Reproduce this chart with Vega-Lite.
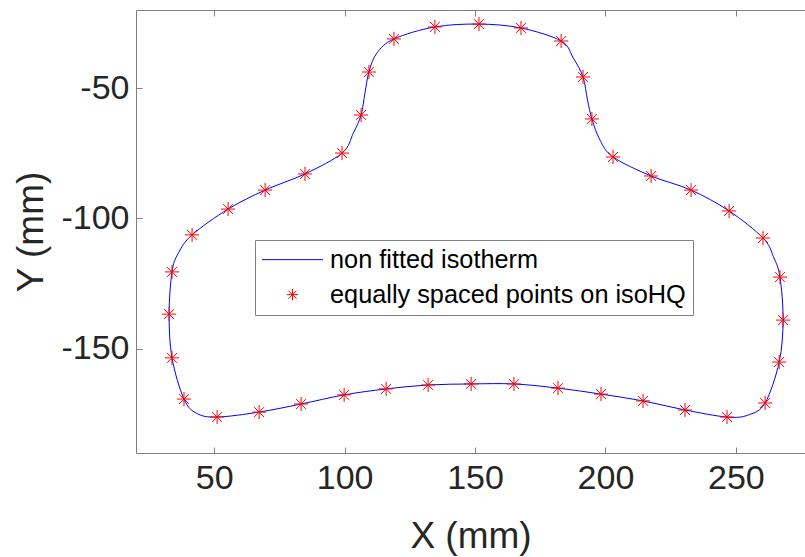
{
  "$schema": "https://vega.github.io/schema/vega-lite/v6.json",
  "width": 669,
  "height": 443,
  "autosize": {"type": "none"},
  "padding": {"left": 136, "top": 10, "right": 0, "bottom": 104},
  "background": "white",
  "config": {
    "view": {"stroke": null},
    "font": "Liberation Sans",
    "axis": {
      "grid": false,
      "domainColor": "#808080",
      "domainWidth": 1,
      "tickColor": "#808080",
      "tickSize": -6,
      "labelFont": "Liberation Sans",
      "labelFontSize": 34,
      "labelColor": "#262626",
      "labelExpr": "toString(datum.value)",
      "titleFont": "Liberation Sans",
      "titleFontSize": 37,
      "titleFontWeight": "normal",
      "titleColor": "#262626"
    }
  },
  "datasets": {
    "curve": [
      {"i": 1, "x": 41.5, "y": -106.3, "s": "non fitted isotherm"},
      {"i": 2, "x": 55.3, "y": -96.4, "s": "non fitted isotherm"},
      {"i": 3, "x": 69.5, "y": -89.1, "s": "non fitted isotherm"},
      {"i": 4, "x": 84.8, "y": -82.9, "s": "non fitted isotherm"},
      {"i": 5, "x": 99.0, "y": -74.9, "s": "non fitted isotherm"},
      {"i": 6, "x": 103.3, "y": -67.3, "s": "non fitted isotherm"},
      {"i": 7, "x": 106.3, "y": -60.3, "s": "non fitted isotherm"},
      {"i": 8, "x": 107.8, "y": -51.8, "s": "non fitted isotherm"},
      {"i": 9, "x": 109.3, "y": -43.8, "s": "non fitted isotherm"},
      {"i": 10, "x": 112.3, "y": -36.6, "s": "non fitted isotherm"},
      {"i": 11, "x": 118.9, "y": -31.1, "s": "non fitted isotherm"},
      {"i": 12, "x": 134.6, "y": -26.5, "s": "non fitted isotherm"},
      {"i": 13, "x": 151.5, "y": -25.4, "s": "non fitted isotherm"},
      {"i": 14, "x": 167.6, "y": -26.9, "s": "non fitted isotherm"},
      {"i": 15, "x": 183.0, "y": -31.9, "s": "non fitted isotherm"},
      {"i": 16, "x": 187.7, "y": -38.5, "s": "non fitted isotherm"},
      {"i": 17, "x": 191.4, "y": -45.7, "s": "non fitted isotherm"},
      {"i": 18, "x": 193.1, "y": -54.5, "s": "non fitted isotherm"},
      {"i": 19, "x": 194.8, "y": -61.8, "s": "non fitted isotherm"},
      {"i": 20, "x": 197.9, "y": -69.9, "s": "non fitted isotherm"},
      {"i": 21, "x": 202.9, "y": -76.4, "s": "non fitted isotherm"},
      {"i": 22, "x": 217.5, "y": -83.7, "s": "non fitted isotherm"},
      {"i": 23, "x": 232.8, "y": -89.1, "s": "non fitted isotherm"},
      {"i": 24, "x": 247.4, "y": -97.1, "s": "non fitted isotherm"},
      {"i": 25, "x": 260.4, "y": -107.5, "s": "non fitted isotherm"},
      {"i": 26, "x": 264.4, "y": -114.7, "s": "non fitted isotherm"},
      {"i": 27, "x": 266.9, "y": -122.5, "s": "non fitted isotherm"},
      {"i": 28, "x": 268.1, "y": -139.0, "s": "non fitted isotherm"},
      {"i": 29, "x": 266.6, "y": -155.1, "s": "non fitted isotherm"},
      {"i": 30, "x": 261.2, "y": -170.8, "s": "non fitted isotherm"},
      {"i": 31, "x": 254.8, "y": -175.4, "s": "non fitted isotherm"},
      {"i": 32, "x": 246.6, "y": -176.2, "s": "non fitted isotherm"},
      {"i": 33, "x": 230.5, "y": -173.5, "s": "non fitted isotherm"},
      {"i": 34, "x": 214.4, "y": -170.0, "s": "non fitted isotherm"},
      {"i": 35, "x": 198.3, "y": -167.4, "s": "non fitted isotherm"},
      {"i": 36, "x": 181.8, "y": -165.1, "s": "non fitted isotherm"},
      {"i": 37, "x": 164.9, "y": -163.5, "s": "non fitted isotherm"},
      {"i": 38, "x": 148.5, "y": -163.5, "s": "non fitted isotherm"},
      {"i": 39, "x": 132.0, "y": -163.9, "s": "non fitted isotherm"},
      {"i": 40, "x": 115.9, "y": -165.4, "s": "non fitted isotherm"},
      {"i": 41, "x": 99.8, "y": -167.7, "s": "non fitted isotherm"},
      {"i": 42, "x": 83.3, "y": -171.2, "s": "non fitted isotherm"},
      {"i": 43, "x": 67.2, "y": -174.3, "s": "non fitted isotherm"},
      {"i": 44, "x": 51.1, "y": -176.2, "s": "non fitted isotherm"},
      {"i": 45, "x": 43.3, "y": -174.8, "s": "non fitted isotherm"},
      {"i": 46, "x": 38.4, "y": -169.3, "s": "non fitted isotherm"},
      {"i": 47, "x": 33.8, "y": -153.5, "s": "non fitted isotherm"},
      {"i": 48, "x": 32.7, "y": -136.7, "s": "non fitted isotherm"},
      {"i": 49, "x": 33.8, "y": -120.5, "s": "non fitted isotherm"},
      {"i": 50, "x": 36.2, "y": -113.4, "s": "non fitted isotherm"}
    ],
    "stars": [
      {"x": 41.5, "y": -106.3, "s": "equally spaced points on isoHQ"},
      {"x": 55.3, "y": -96.4, "s": "equally spaced points on isoHQ"},
      {"x": 69.5, "y": -89.1, "s": "equally spaced points on isoHQ"},
      {"x": 84.8, "y": -82.9, "s": "equally spaced points on isoHQ"},
      {"x": 99.0, "y": -74.9, "s": "equally spaced points on isoHQ"},
      {"x": 106.3, "y": -60.3, "s": "equally spaced points on isoHQ"},
      {"x": 109.3, "y": -43.8, "s": "equally spaced points on isoHQ"},
      {"x": 118.9, "y": -31.1, "s": "equally spaced points on isoHQ"},
      {"x": 134.6, "y": -26.5, "s": "equally spaced points on isoHQ"},
      {"x": 151.5, "y": -25.4, "s": "equally spaced points on isoHQ"},
      {"x": 167.6, "y": -26.9, "s": "equally spaced points on isoHQ"},
      {"x": 183.0, "y": -31.9, "s": "equally spaced points on isoHQ"},
      {"x": 191.4, "y": -45.7, "s": "equally spaced points on isoHQ"},
      {"x": 194.8, "y": -61.8, "s": "equally spaced points on isoHQ"},
      {"x": 202.9, "y": -76.4, "s": "equally spaced points on isoHQ"},
      {"x": 217.5, "y": -83.7, "s": "equally spaced points on isoHQ"},
      {"x": 232.8, "y": -89.1, "s": "equally spaced points on isoHQ"},
      {"x": 247.4, "y": -97.1, "s": "equally spaced points on isoHQ"},
      {"x": 260.4, "y": -107.5, "s": "equally spaced points on isoHQ"},
      {"x": 266.9, "y": -122.5, "s": "equally spaced points on isoHQ"},
      {"x": 268.1, "y": -139.0, "s": "equally spaced points on isoHQ"},
      {"x": 266.6, "y": -155.1, "s": "equally spaced points on isoHQ"},
      {"x": 261.2, "y": -170.8, "s": "equally spaced points on isoHQ"},
      {"x": 246.6, "y": -176.2, "s": "equally spaced points on isoHQ"},
      {"x": 230.5, "y": -173.5, "s": "equally spaced points on isoHQ"},
      {"x": 214.4, "y": -170.0, "s": "equally spaced points on isoHQ"},
      {"x": 198.3, "y": -167.4, "s": "equally spaced points on isoHQ"},
      {"x": 181.8, "y": -165.1, "s": "equally spaced points on isoHQ"},
      {"x": 164.9, "y": -163.5, "s": "equally spaced points on isoHQ"},
      {"x": 148.5, "y": -163.5, "s": "equally spaced points on isoHQ"},
      {"x": 132.0, "y": -163.9, "s": "equally spaced points on isoHQ"},
      {"x": 115.9, "y": -165.4, "s": "equally spaced points on isoHQ"},
      {"x": 99.8, "y": -167.7, "s": "equally spaced points on isoHQ"},
      {"x": 83.3, "y": -171.2, "s": "equally spaced points on isoHQ"},
      {"x": 67.2, "y": -174.3, "s": "equally spaced points on isoHQ"},
      {"x": 51.1, "y": -176.2, "s": "equally spaced points on isoHQ"},
      {"x": 38.4, "y": -169.3, "s": "equally spaced points on isoHQ"},
      {"x": 33.8, "y": -153.5, "s": "equally spaced points on isoHQ"},
      {"x": 32.7, "y": -136.7, "s": "equally spaced points on isoHQ"},
      {"x": 33.8, "y": -120.5, "s": "equally spaced points on isoHQ"}
    ]
  },
  "resolve": {"axis": {"x": "independent"}},
  "layer": [
    {
      "data": {"name": "curve"},
      "mark": {"type": "line", "interpolate": "cardinal-closed", "strokeWidth": 1, "clip": true},
      "encoding": {
        "x": {"field": "x", "type": "quantitative",
              "scale": {"domain": [20, 276.5], "nice": false, "zero": false},
              "axis": {"orient": "bottom", "values": [50, 100, 150, 200, 250], "title": "X (mm)", "labelPadding": 14, "titlePadding": 23}},
        "y": {"field": "y", "type": "quantitative",
              "scale": {"domain": [-190, -20], "nice": false, "zero": false},
              "axis": {"values": [-150, -100, -50], "title": "Y (mm)", "labelPadding": 13, "titlePadding": 10}},
        "order": {"field": "i", "type": "quantitative"},
        "color": {"field": "s", "type": "nominal",
                  "scale": {"domain": ["non fitted isotherm", "equally spaced points on isoHQ"], "range": ["#0000ff", "#ff0000"]},
                  "legend": {
                    "orient": "none", "legendX": 119, "legendY": 230,
                    "title": null,
                    "symbolType": "stroke",
                    "symbolSize": 3721,
                    "symbolStrokeWidth": 1,
                    "labelFont": "Liberation Sans",
                    "labelFontSize": 25.3,
                    "labelColor": "#000000",
                    "labelLimit": 0,
                    "strokeColor": "#808080",
                    "fillColor": "white",
                    "padding": 7,
                    "rowPadding": 9,
                    "encode": {
                      "symbols": {
                        "update": {
                          "x": {"value": 30.5},
                          "shape": {"signal": "datum.value == 'non fitted isotherm' ? 'stroke' : 'M0,-1V1M-1,0H1M-0.7,-0.7L0.7,0.7M-0.7,0.7L0.7,-0.7'"},
                          "size": {"signal": "datum.value == 'non fitted isotherm' ? 3721 : 130"},
                          "stroke": {"signal": "datum.value == 'non fitted isotherm' ? '#0000ff' : '#ff0000'"},
                          "fill": {"value": "transparent"},
                          "strokeWidth": {"value": 1},
                          "opacity": {"value": 1}
                        }
                      },
                      "labels": {
                        "update": {
                          "x": {"value": 68}
                        }
                      }
                    }
                  }}
      }
    },
    {
      "data": {"name": "stars"},
      "mark": {"type": "point", "shape": "M0,-1V1M-1,0H1M-0.7,-0.7L0.7,0.7M-0.7,0.7L0.7,-0.7", "filled": false, "size": 200, "strokeWidth": 1, "opacity": 1},
      "encoding": {
        "x": {"field": "x", "type": "quantitative",
              "scale": {"domain": [20, 276.5], "nice": false, "zero": false},
              "axis": {"orient": "top", "values": [50, 100, 150, 200, 250], "labels": false, "title": null}},
        "y": {"field": "y", "type": "quantitative"},
        "color": {"field": "s", "type": "nominal"}
      }
    }
  ]
}
